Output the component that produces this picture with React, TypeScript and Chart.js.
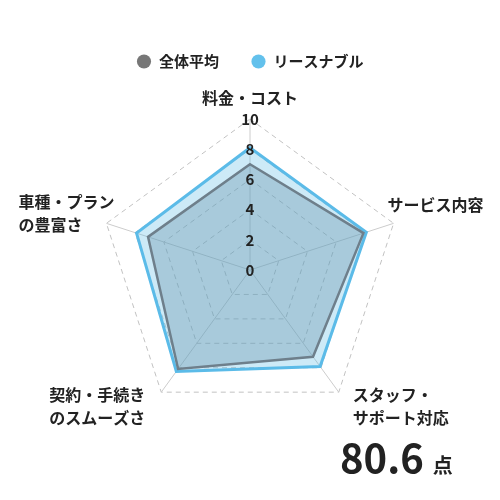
import { useEffect, useRef } from 'react';
import Chart from 'chart.js/auto';

const FONT = "'Noto Sans CJK JP', 'Noto Sans', sans-serif";

// data
const axisLabels = [
  ['料金・コスト'],
  ['サービス内容'],
  ['スタッフ・', 'サポート対応'],
  ['契約・手続き', 'のスムーズさ'],
  ['車種・プラン', 'の豊富さ'],
];
const averageScores = [7.0, 7.9, 7.1, 8.1, 7.1];
const leaseScores = [8.1, 8.1, 7.9, 8.3, 7.9];
const tickValues = [0, 2, 4, 6, 8, 10];
const totalScore = '80.6';
const scoreUnit = '点';

// where each axis label sits relative to its outer vertex
const labelLayout: { align: CanvasTextAlign; dx: number; dy: number }[] = [
  { align: 'center', dx: 0, dy: -21 },
  { align: 'left', dx: -6, dy: -18 },
  { align: 'left', dx: 14, dy: 3 },
  { align: 'right', dx: -16, dy: 3 },
  { align: 'left', dx: -88, dy: -21 },
];

const overlayPlugin = {
  id: 'overlay',
  afterDatasetsDraw(chart: any) {
    const scale = chart.scales.r;
    const ctx = chart.ctx as CanvasRenderingContext2D;
    ctx.save();
    ctx.fillStyle = '#222';
    ctx.textBaseline = 'middle';

    // tick labels on the top axis
    ctx.font = `bold 15px ${FONT}`;
    ctx.textAlign = 'center';
    tickValues.forEach((v) => {
      const p = scale.getPointPositionForValue(0, v);
      ctx.fillText(String(v), p.x, p.y);
    });

    // axis labels
    ctx.font = `bold 16px ${FONT}`;
    axisLabels.forEach((lines, i) => {
      const p = scale.getPointPositionForValue(i, scale.max);
      const l = labelLayout[i];
      ctx.textAlign = l.align;
      lines.forEach((t, j) => ctx.fillText(t, p.x + l.dx, p.y + l.dy + j * 23));
    });

    // total score
    ctx.textAlign = 'left';
    ctx.textBaseline = 'alphabetic';
    ctx.font = `bold 40px ${FONT}`;
    ctx.fillText(totalScore, 340, 473);
    const w = ctx.measureText(totalScore).width;
    ctx.font = `bold 20px ${FONT}`;
    ctx.fillText(scoreUnit, 340 + w + 9, 473);
    ctx.restore();
  },
};

const legendColors = ['#777777', '#63c1ec'];

export default function App() {
  const canvasRef = useRef<HTMLCanvasElement | null>(null);

  useEffect(() => {
    if (!canvasRef.current) return;

    const chart = new Chart(canvasRef.current, {
      type: 'radar',
      data: {
        labels: axisLabels.map((l) => l.join('')),
        datasets: [
          {
            label: '全体平均',
            data: averageScores,
            borderColor: '#6e7f8b',
            backgroundColor: 'rgba(100, 143, 165, 0.35)',
            borderWidth: 2.5,
            pointRadius: 0,
            fill: true,
          },
          {
            label: 'リースナブル',
            data: leaseScores,
            borderColor: '#5bbbe8',
            backgroundColor: 'rgba(90, 184, 230, 0.3)',
            borderWidth: 3,
            pointRadius: 0,
            fill: true,
          },
        ],
      },
      options: {
        responsive: true,
        maintainAspectRatio: false,
        animation: false,
        layout: {
          padding: { top: 22, bottom: 39, left: 99, right: 99 },
        },
        scales: {
          r: {
            min: 0,
            max: 10,
            ticks: { display: false, stepSize: 2 },
            pointLabels: { display: false },
            grid: { color: '#c2c2c2', lineWidth: 1, borderDash: [5, 4] },
            border: { dash: [5, 4] },
            angleLines: { color: '#cccccc', lineWidth: 1 },
          },
        },
        plugins: {
          tooltip: { enabled: false },
          legend: {
            display: true,
            position: 'top',
            labels: {
              usePointStyle: true,
              pointStyle: 'circle',
              boxHeight: 10,
              padding: 32,
              color: '#222',
              font: { family: FONT, size: 15, weight: 'bold' },
              generateLabels: (c: any) =>
                Chart.defaults.plugins.legend.labels.generateLabels(c).map((item: any, i: number) => ({
                  ...item,
                  fillStyle: legendColors[i],
                  strokeStyle: legendColors[i],
                  lineWidth: 0,
                })),
            },
          },
        },
      } as any,
      plugins: [overlayPlugin],
    });

    return () => {
      chart.destroy();
    };
  }, []);

  return (
    <div style={{ position: 'absolute', left: 0, top: 0, width: 500, height: 500, background: '#fff' }}>
      <canvas ref={canvasRef} />
    </div>
  );
}
